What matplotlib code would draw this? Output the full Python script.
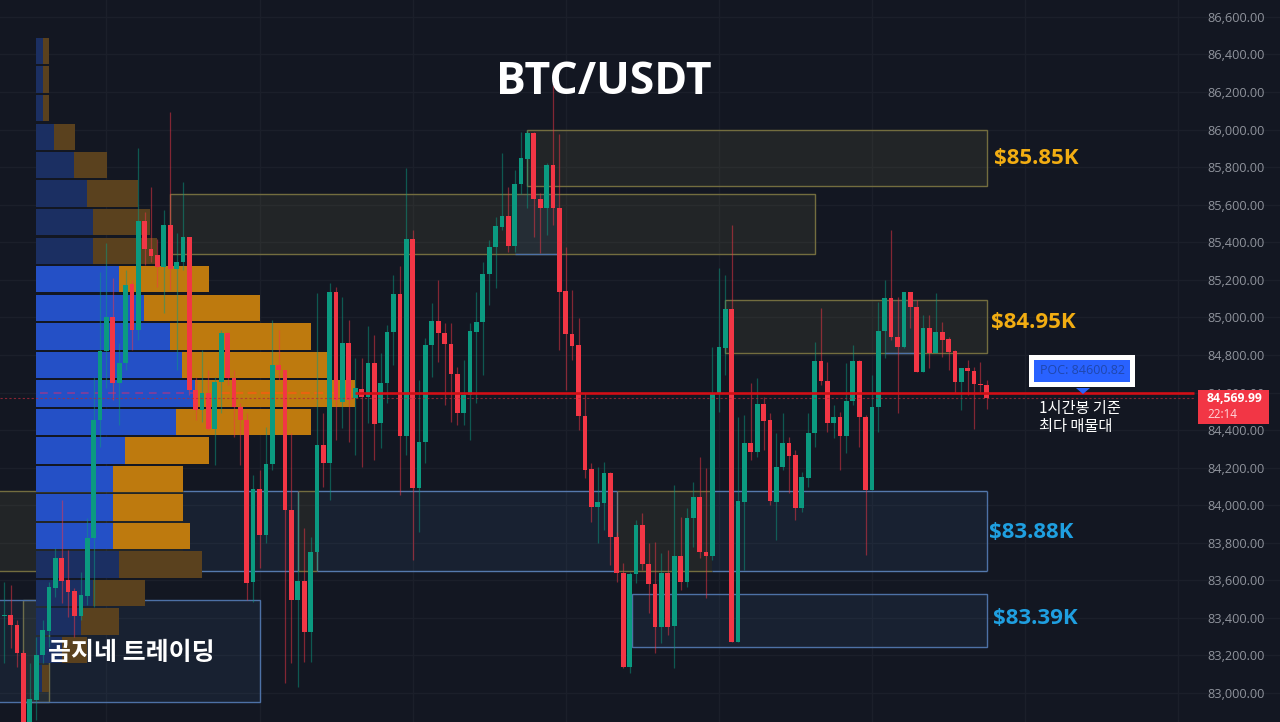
"""
BTC/USDT 1h candles with volume profile and supply / demand zones
"""
import matplotlib
matplotlib.use("Agg")
import matplotlib.pyplot as plt
from matplotlib.patches import Polygon, Rectangle

opens = [83410, 83415, 83362, 83213, 82813, 82963, 83202, 83330, 83559, 83719,
         83601, 83543, 83410, 83516, 83825, 84454, 84821, 85002, 84651, 84757,
         85178, 84933, 85513, 85364, 85332, 85268, 85492, 85258, 85295, 85428,
         84613, 84507, 84597, 84406, 84656, 84917, 84677, 84523, 84454, 83591,
         84086, 83841, 84219, 84746, 84720, 83974, 83495, 83596, 83325, 83751,
         84320, 84225, 85135, 84549, 84864, 84571, 84619, 84576, 84757, 84437,
         84651, 84922, 85124, 84368, 85417, 84091, 84336, 84853, 84981, 84917,
         84858, 84698, 84491, 84587, 84922, 84975, 85231, 85375, 85481, 85540,
         85380, 85710, 85843, 85982, 85630, 85582, 85811, 85582, 85140, 84911,
         84853, 84475, 84193, 83990, 84012, 84171, 83830, 83639, 83138, 83633,
         83894, 83687, 83580, 83351, 83639, 83357, 83729, 83591, 83932, 84044,
         83751, 83729, 84597, 84837, 85045, 83271, 84017, 84331, 84283, 84539,
         84454, 84017, 84203, 84331, 84267, 83985, 84145, 84384, 84768, 84661,
         84437, 84469, 84368, 84555, 84768, 84469, 84081, 84523, 84927, 85103,
         84896, 84842, 85135, 85055, 84709, 84943, 84810, 84922, 84885, 84821,
         84656, 84730, 84714, 84645, 84640]
highs = [83591, 83575, 83389, 83229, 83160, 83298, 83389, 83591, 83772, 84027,
         83761, 83559, 83644, 83932, 84682, 85242, 85396, 85210, 84864, 85252,
         85199, 85902, 85561, 85694, 85417, 85572, 86094, 85449, 85721, 85428,
         84682, 84826, 84720, 84682, 84933, 84922, 84720, 84544, 84491, 84161,
         84187, 84416, 84986, 84933, 84720, 84384, 84065, 83878, 83830, 85130,
         84491, 85183, 85162, 85108, 84986, 84784, 84784, 84954, 84906, 84810,
         84959, 85226, 85274, 85795, 85465, 84667, 84890, 85077, 85199, 84970,
         84970, 84736, 84773, 84970, 85135, 85295, 85412, 85534, 85875, 85694,
         85785, 85987, 85998, 85987, 85662, 85822, 86237, 85976, 85375, 85146,
         84997, 84597, 84225, 84203, 84230, 84177, 83857, 83692, 83644, 83921,
         83958, 83798, 83804, 83745, 83761, 84107, 83937, 83985, 84123, 84257,
         84198, 84842, 85263, 85226, 85492, 84469, 84480, 84651, 84677, 84576,
         84491, 84384, 84491, 84363, 84294, 84177, 84491, 84869, 85050, 84762,
         84533, 84496, 84757, 84853, 84773, 84480, 84693, 85082, 85199, 85465,
         85108, 85135, 85135, 85093, 85013, 85013, 85130, 84975, 84896, 84826,
         84730, 84773, 84736, 84762, 84667]
lows = [83160, 83239, 83138, 82776, 82776, 82856, 83160, 83245, 83511, 83479,
        83405, 83298, 83389, 83468, 83458, 84310, 84624, 84560, 84427, 84720,
        84826, 84880, 85279, 85295, 85162, 85023, 85146, 84720, 85252, 84587,
        84454, 84443, 84400, 84214, 84491, 84640, 84363, 84214, 83495, 83484,
        83665, 83798, 84187, 84667, 83053, 83160, 83032, 83165, 83165, 83655,
        84097, 84027, 84347, 84411, 84336, 84267, 84203, 84437, 84241, 84304,
        84544, 84746, 84054, 84267, 83708, 83857, 84225, 84682, 84762, 84533,
        84443, 84427, 84427, 84347, 84544, 84693, 85066, 85156, 85465, 85348,
        85348, 85657, 85582, 85428, 85343, 85439, 85492, 84826, 84613, 84773,
        84400, 84145, 83910, 83798, 83868, 83681, 83591, 83133, 83106, 83586,
        83655, 83426, 83213, 83266, 83309, 83133, 83548, 83564, 83777, 83719,
        83506, 83708, 84496, 84693, 83271, 83271, 83655, 84241, 84256, 84294,
        84001, 83815, 84187, 84065, 83921, 83964, 84097, 84310, 84640, 84390,
        84358, 84187, 84278, 84533, 84310, 83735, 84081, 84390, 84784, 84880,
        84491, 84837, 84943, 84709, 84709, 84730, 84810, 84789, 84720, 84597,
        84507, 84587, 84406, 84603, 84512]
closes = [83415, 83362, 83213, 82803, 82968, 83202, 83335, 83564, 83719, 83596,
          83538, 83410, 83522, 83825, 84454, 84821, 85002, 84651, 84757, 85172,
          84933, 85513, 85364, 85327, 85268, 85492, 85258, 85295, 85428, 84613,
          84507, 84597, 84406, 84656, 84917, 84677, 84523, 84454, 83586, 84086,
          83841, 84219, 84746, 84720, 83974, 83495, 83596, 83325, 83751, 84320,
          84225, 85135, 84560, 84864, 84560, 84624, 84576, 84757, 84432, 84651,
          84922, 85124, 84368, 85417, 84091, 84336, 84853, 84981, 84917, 84858,
          84698, 84491, 84587, 84927, 84975, 85231, 85375, 85487, 85540, 85380,
          85710, 85849, 85982, 85630, 85582, 85811, 85582, 85135, 84911, 84848,
          84475, 84187, 83990, 84017, 84171, 83830, 83639, 83138, 83633, 83894,
          83687, 83580, 83351, 83639, 83351, 83729, 83591, 83932, 84044, 83751,
          83729, 84597, 84842, 85045, 83271, 84022, 84331, 84283, 84539, 84448,
          84022, 84203, 84331, 84262, 83985, 84150, 84384, 84768, 84661, 84437,
          84469, 84368, 84555, 84768, 84469, 84081, 84523, 84927, 85103, 84896,
          84842, 85135, 85055, 84709, 84943, 84810, 84922, 84880, 84816, 84656,
          84730, 84714, 84645, 84640, 84570]

# volume profile, one row per price bucket
bucket_prices = [86418, 86266, 86114, 85962, 85810, 85659, 85507, 85355, 85203,
                 85051, 84899, 84747, 84595, 84444, 84292, 84140, 83988, 83836,
                 83684, 83532, 83381, 83229, 83077]
buy_volume = [7, 7, 7, 18, 38, 51, 57, 57, 83, 108, 134, 146, 159, 140, 89, 77,
              77, 77, 83, 57, 45, 26, 6]
sell_volume = [6, 6, 6, 21, 33, 51, 57, 64, 90, 116, 141, 146, 160, 135, 84, 70,
               70, 77, 83, 52, 38, 25, 7]
value_area = range(8, 18)

# boxed zones: candle index left / right, price top / bottom
yellow_left = [82, 26, 113, 3]
yellow_right = [154, 127, 154, 7]
yellow_top = [85998, 85657, 85093, 83495]
yellow_bottom = [85700, 85337, 84810, 82953]

blue_left = [98.4, -3]
blue_right = [154, 40]
blue_top = [83527, 83495]
blue_bottom = [83245, 82953]

# the 83.88K band changes colour along its length
band_top = 84075
band_bottom = 83650
band_yellow_left = [-3, 46, 96]
band_yellow_right = [28, 49, 111]
band_blue_left = [28, 49, 111]
band_blue_right = [46, 96, 154]

# blue tint inside the yellow boxes
tint_left = [80, 138]
tint_right = [87, 143]
tint_top = [85657, 85093]
tint_bottom = [85337, 84810]

price_ticks = list(range(83000, 86601, 200))
time_ticks = [16, 40, 64, 88, 112, 136, 160, 184]
poc_line = 84595
last_price = 84569.99

BG = "#131722"
GRID = "#1b1f2a"
UP = "#0b9a80"
DOWN = "#f23645"
YELLOW_FILL = (0.55, 0.53, 0.30, 0.13)
YELLOW_EDGE = "#736d3f"
BLUE_FILL = (0.25, 0.42, 0.62, 0.12)
BLUE_EDGE = "#4d71a6"
KR_FONT = ["Noto Sans CJK KR", "DejaVu Sans"]

fig = plt.figure(figsize=(12.8, 7.22), dpi=100, facecolor=BG)
ax = fig.add_axes([0, 0, 1, 1], facecolor=BG)
ax.set_xlim(-0.674, 199.95)
ax.set_ylim(82845.6, 86690)

# grid and price scale
ax.set_xticks(time_ticks)
ax.set_yticks(price_ticks)
ax.set_yticklabels([f"{p:,.2f}" for p in price_ticks], fontfamily="Open Sans", fontsize=9.2, color="#8f939c")
ax.grid(True, color=GRID, lw=1)
ax.set_axisbelow(True)
ax.tick_params(axis="y", left=False, right=False, labelleft=False, labelright=True, length=0, pad=-52.5)
ax.tick_params(axis="x", bottom=False, labelbottom=False)
for side in ax.spines.values():
    side.set_visible(False)

# zones
for l, r, t, b in zip(yellow_left, yellow_right, yellow_top, yellow_bottom):
    ax.add_patch(Rectangle((l, b), r - l, t - b, facecolor=YELLOW_FILL, edgecolor=YELLOW_EDGE, lw=1, zorder=1))
for l, r, t, b in zip(blue_left, blue_right, blue_top, blue_bottom):
    ax.add_patch(Rectangle((l, b), r - l, t - b, facecolor=BLUE_FILL, edgecolor=BLUE_EDGE, lw=1, zorder=1))
for l, r, t, b in zip(tint_left, tint_right, tint_top, tint_bottom):
    ax.add_patch(Rectangle((l, b), r - l, t - b, facecolor=BLUE_FILL, edgecolor="none", zorder=1))
    ax.hlines(b, l, r, color=BLUE_EDGE, lw=1, zorder=1)

for l, r in zip(band_yellow_left, band_yellow_right):
    ax.add_patch(Rectangle((l, band_bottom), r - l, band_top - band_bottom, facecolor=YELLOW_FILL,
                           edgecolor="none", zorder=1))
    ax.hlines([band_top, band_bottom], l, r, color=YELLOW_EDGE, lw=1, zorder=1)
for l, r in zip(band_blue_left, band_blue_right):
    ax.add_patch(Rectangle((l, band_bottom), r - l, band_top - band_bottom, facecolor=BLUE_FILL,
                           edgecolor="none", zorder=1))
    ax.hlines([band_top, band_bottom], l, r, color="#5579ad", lw=1, zorder=1)
ax.vlines([46, 49, 96], band_bottom, band_top, color="#6f7378", lw=1, zorder=1)
ax.vlines(154, band_bottom, band_top, color=BLUE_EDGE, lw=1, zorder=1)

# volume profile sits on its own x scale, 0 at the left edge of the bars
profile = fig.add_axes([0, 0, 1, 1], facecolor="none")
profile.set_xlim(-36, 1244)
profile.set_ylim(ax.get_ylim())
profile.axis("off")
for i, price in enumerate(bucket_prices):
    strong = i in value_area
    profile.barh(price, buy_volume[i], height=140, color="#2450c6" if strong else "#1b2f62", zorder=2)
    profile.barh(price, sell_volume[i], left=buy_volume[i], height=140,
                 color="#be7a0e" if strong else "#5a411e", zorder=2)
profile.hlines(poc_line, 4, buy_volume[12], color="#7a3f9e", lw=1.4, ls=(0, (4, 3)), zorder=3)
profile.hlines(poc_line, 185, 319, color="#e8650f", lw=1.6, ls=(0, (4, 2)), zorder=3)

# candles go above the profile
candles = fig.add_axes([0, 0, 1, 1], facecolor="none")
candles.set_xlim(ax.get_xlim())
candles.set_ylim(ax.get_ylim())
candles.axis("off")
for i in range(len(opens)):
    colour = UP if closes[i] >= opens[i] else DOWN
    candles.vlines(i, lows[i], highs[i], color=colour, lw=0.9, alpha=0.5, zorder=3)
    candles.bar(i, abs(closes[i] - opens[i]), bottom=min(opens[i], closes[i]), width=0.74,
                color=colour, zorder=4)

candles.hlines(poc_line, 55, 186.5, color="#d20f16", lw=1.9, zorder=5)
candles.hlines(last_price, -0.674, 186.5, color="#b02a3a", lw=0.8, ls=(0, (2, 2)), alpha=0.75, zorder=5)

# annotations are placed in screen pixels
over = fig.add_axes([0, 0, 1, 1], facecolor="none")
over.set_xlim(0, 1280)
over.set_ylim(722, 0)
over.axis("off")

over.text(604, 82, "BTC/USDT", color="white", fontsize=32, fontweight="bold", fontfamily="Open Sans",
          ha="center", va="center")
over.text(131, 653, "곰지네 트레이딩", color="white", fontsize=18, fontweight="bold", fontfamily=KR_FONT,
          ha="center", va="center")

zone_labels = ["$85.85K", "$84.95K", "$83.88K", "$83.39K"]
zone_label_x = [994, 991, 989, 993]
zone_label_y = [158, 323, 533, 618]
zone_label_colors = ["#f2ad12", "#f2ad12", "#1f9fe0", "#1f9fe0"]
for label, x, y, c in zip(zone_labels, zone_label_x, zone_label_y, zone_label_colors):
    over.text(x, y, label, color=c, fontsize=16, fontweight="bold", fontfamily="Open Sans", va="center")

# POC callout
over.add_patch(Rectangle((1029, 355), 106, 32, facecolor="white", edgecolor="none"))
over.add_patch(Rectangle((1034, 360), 96, 22, facecolor="#2962ff", edgecolor="none"))
over.add_patch(Polygon([(1076, 388), (1090, 388), (1083, 394)], facecolor="#2962ff", edgecolor="none"))
over.text(1082, 371, "POC: 84600.82", color="#1f47ad", fontsize=9, fontfamily="Open Sans", ha="center", va="center")
over.text(1039, 408, "1시간봉 기준", color="white", fontsize=11, fontweight="medium", fontfamily=KR_FONT, va="center")
over.text(1039, 427, "최다 매물대", color="white", fontsize=11, fontweight="medium", fontfamily=KR_FONT, va="center")

# last price tag
over.add_patch(Rectangle((1198, 390), 71, 34, facecolor=DOWN, edgecolor="none"))
over.text(1207, 398.5, f"{last_price:,.2f}", color="white", fontsize=8.8, fontweight="bold",
          fontfamily="Open Sans", va="center")
over.text(1207, 414, "22:14", color="#ffd5d9", fontsize=8.4, fontfamily="Open Sans", va="center")

fig.savefig("out.png", dpi=100, facecolor=BG)
